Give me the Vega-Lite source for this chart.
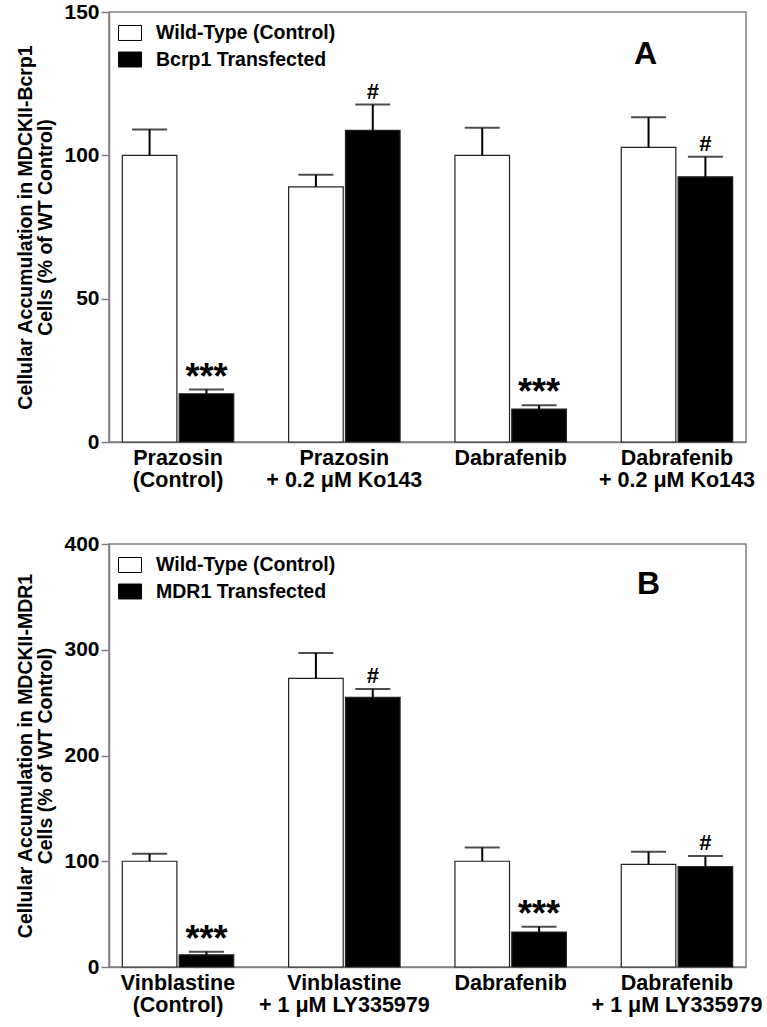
{
  "$schema": "https://vega.github.io/schema/vega-lite/v6.json",
  "padding": {"left": 15, "top": 0, "right": 19, "bottom": 0},
  "spacing": 40,
  "background": "white",
  "config": {
    "font": "Liberation Sans",
    "view": {"stroke": "#808080", "strokeWidth": 1.5},
    "axis": {"labelFont": "Liberation Sans", "labelFontWeight": "bold", "labelColor": "black", "titleFont": "Liberation Sans", "titleFontWeight": "bold", "titleColor": "black", "domainColor": "#808080", "domainWidth": 1.5, "tickColor": "#808080", "tickWidth": 1.5, "grid": false},
    "axisY": {"tickSize": 8, "labelPadding": 2, "labelFontSize": 21, "titleFontSize": 19.5, "titlePadding": 8, "titleLineHeight": 20},
    "axisX": {"title": null, "labelAngle": 0, "ticks": false, "labelPadding": 5, "labelFontSize": 21.5, "labelLineHeight": 22},
    "legend": {"orient": "top-left", "offset": 9, "padding": 0, "title": null, "labelFont": "Liberation Sans", "labelFontSize": 19.5, "labelFontWeight": "bold", "labelColor": "black", "labelLimit": 0, "symbolType": "M-1,-0.65H1V0.65H-1Z", "symbolSize": 529, "symbolStrokeColor": "black", "symbolStrokeWidth": 1, "labelOffset": 14, "rowPadding": 4.5}
  },
  "resolve": {"scale": {"x": "independent", "y": "independent", "fill": "independent", "xOffset": "independent"}, "legend": {"fill": "independent"}},
  "vconcat": [
    {
      "width": 637, "height": 430,
      "data": {"values": [
        {"drug": "Prazosin|(Control)", "k": "a", "series": "Wild-Type (Control)", "value": 100, "hi": 109, "sig": ""},
        {"drug": "Prazosin|(Control)", "k": "b", "series": "Bcrp1 Transfected", "value": 16.8, "hi": 18.3, "sig": "***"},
        {"drug": "Prazosin|+ 0.2 μM Ko143", "k": "a", "series": "Wild-Type (Control)", "value": 89, "hi": 93.2, "sig": ""},
        {"drug": "Prazosin|+ 0.2 μM Ko143", "k": "b", "series": "Bcrp1 Transfected", "value": 108.7, "hi": 117.7, "sig": "#"},
        {"drug": "Dabrafenib", "k": "a", "series": "Wild-Type (Control)", "value": 100, "hi": 109.6, "sig": ""},
        {"drug": "Dabrafenib", "k": "b", "series": "Bcrp1 Transfected", "value": 11.5, "hi": 12.8, "sig": "***"},
        {"drug": "Dabrafenib|+ 0.2 μM Ko143", "k": "a", "series": "Wild-Type (Control)", "value": 102.8, "hi": 113.3, "sig": ""},
        {"drug": "Dabrafenib|+ 0.2 μM Ko143", "k": "b", "series": "Bcrp1 Transfected", "value": 92.5, "hi": 99.5, "sig": "#"}
      ]},
      "encoding": {
        "x": {"field": "drug", "type": "nominal", "scale": {"domain": ["Prazosin|(Control)", "Prazosin|+ 0.2 μM Ko143", "Dabrafenib", "Dabrafenib|+ 0.2 μM Ko143"], "paddingInner": 0.33, "paddingOuter": 0.08}, "axis": {"labelExpr": "split(datum.label, '|')"}},
        "xOffset": {"field": "k", "type": "nominal", "scale": {"domain": ["a", "b"], "paddingInner": 0.04, "paddingOuter": 0}}
      },
      "layer": [
        {"mark": {"type": "bar", "stroke": "#222", "strokeWidth": 1.2},
         "encoding": {
           "y": {"field": "value", "type": "quantitative", "scale": {"domain": [0, 150], "nice": false}, "axis": {"values": [0, 50, 100, 150], "title": ["Cellular Accumulation in MDCKII-Bcrp1", "Cells (% of WT Control)"]}},
           "fill": {"field": "series", "type": "nominal", "scale": {"domain": ["Wild-Type (Control)", "Bcrp1 Transfected"], "range": ["white", "black"]}}
         }},
        {"mark": {"type": "rule", "color": "black", "strokeWidth": 2},
         "encoding": {"y": {"field": "value", "type": "quantitative"}, "y2": {"field": "hi"}}},
        {"mark": {"type": "tick", "color": "black", "thickness": 2, "size": 35},
         "encoding": {"y": {"field": "hi", "type": "quantitative"}}},
        {"transform": [{"filter": "datum.sig == '***'"}],
         "mark": {"type": "text", "fontSize": 36, "fontWeight": "bold", "baseline": "alphabetic", "dy": -1, "color": "black"},
         "encoding": {"y": {"field": "hi", "type": "quantitative"}, "text": {"field": "sig"}}},
        {"transform": [{"filter": "datum.sig == '#'"}],
         "mark": {"type": "text", "fontSize": 22, "fontWeight": "bold", "baseline": "alphabetic", "dy": -6, "color": "black"},
         "encoding": {"y": {"field": "hi", "type": "quantitative"}, "text": {"field": "sig"}}},
        {"data": {"values": [{"drug": "Dabrafenib|+ 0.2 μM Ko143", "k": "a", "pos": 132, "label": "A"}]},
         "mark": {"type": "text", "fontSize": 32, "fontWeight": "bold", "baseline": "alphabetic", "dx": -3, "color": "black"},
         "encoding": {"y": {"field": "pos", "type": "quantitative"}, "text": {"field": "label"}}}
      ]
    },
    {
      "width": 637, "height": 423,
      "data": {"values": [
        {"drug": "Vinblastine|(Control)", "k": "a", "series": "Wild-Type (Control)", "value": 100, "hi": 107, "sig": ""},
        {"drug": "Vinblastine|(Control)", "k": "b", "series": "MDR1 Transfected", "value": 11.5, "hi": 14.5, "sig": "***"},
        {"drug": "Vinblastine|+ 1 μM LY335979", "k": "a", "series": "Wild-Type (Control)", "value": 273, "hi": 297, "sig": ""},
        {"drug": "Vinblastine|+ 1 μM LY335979", "k": "b", "series": "MDR1 Transfected", "value": 255, "hi": 263, "sig": "#"},
        {"drug": "Dabrafenib", "k": "a", "series": "Wild-Type (Control)", "value": 100, "hi": 113, "sig": ""},
        {"drug": "Dabrafenib", "k": "b", "series": "MDR1 Transfected", "value": 33, "hi": 38, "sig": "***"},
        {"drug": "Dabrafenib|+ 1 μM LY335979", "k": "a", "series": "Wild-Type (Control)", "value": 97, "hi": 109, "sig": ""},
        {"drug": "Dabrafenib|+ 1 μM LY335979", "k": "b", "series": "MDR1 Transfected", "value": 95, "hi": 105, "sig": "#"}
      ]},
      "encoding": {
        "x": {"field": "drug", "type": "nominal", "scale": {"domain": ["Vinblastine|(Control)", "Vinblastine|+ 1 μM LY335979", "Dabrafenib", "Dabrafenib|+ 1 μM LY335979"], "paddingInner": 0.33, "paddingOuter": 0.08}, "axis": {"labelExpr": "split(datum.label, '|')"}},
        "xOffset": {"field": "k", "type": "nominal", "scale": {"domain": ["a", "b"], "paddingInner": 0.04, "paddingOuter": 0}}
      },
      "layer": [
        {"mark": {"type": "bar", "stroke": "#222", "strokeWidth": 1.2},
         "encoding": {
           "y": {"field": "value", "type": "quantitative", "scale": {"domain": [0, 400], "nice": false}, "axis": {"values": [0, 100, 200, 300, 400], "title": ["Cellular Accumulation in MDCKII-MDR1", "Cells (% of WT Control)"]}},
           "fill": {"field": "series", "type": "nominal", "scale": {"domain": ["Wild-Type (Control)", "MDR1 Transfected"], "range": ["white", "black"]}}
         }},
        {"mark": {"type": "rule", "color": "black", "strokeWidth": 2},
         "encoding": {"y": {"field": "value", "type": "quantitative"}, "y2": {"field": "hi"}}},
        {"mark": {"type": "tick", "color": "black", "thickness": 2, "size": 35},
         "encoding": {"y": {"field": "hi", "type": "quantitative"}}},
        {"transform": [{"filter": "datum.sig == '***'"}],
         "mark": {"type": "text", "fontSize": 36, "fontWeight": "bold", "baseline": "alphabetic", "dy": -1, "color": "black"},
         "encoding": {"y": {"field": "hi", "type": "quantitative"}, "text": {"field": "sig"}}},
        {"transform": [{"filter": "datum.sig == '#'"}],
         "mark": {"type": "text", "fontSize": 22, "fontWeight": "bold", "baseline": "alphabetic", "dy": -6, "color": "black"},
         "encoding": {"y": {"field": "hi", "type": "quantitative"}, "text": {"field": "sig"}}},
        {"data": {"values": [{"drug": "Dabrafenib|+ 1 μM LY335979", "k": "a", "pos": 353, "label": "B"}]},
         "mark": {"type": "text", "fontSize": 32, "fontWeight": "bold", "baseline": "alphabetic", "color": "black"},
         "encoding": {"y": {"field": "pos", "type": "quantitative"}, "text": {"field": "label"}}}
      ]
    }
  ]
}
